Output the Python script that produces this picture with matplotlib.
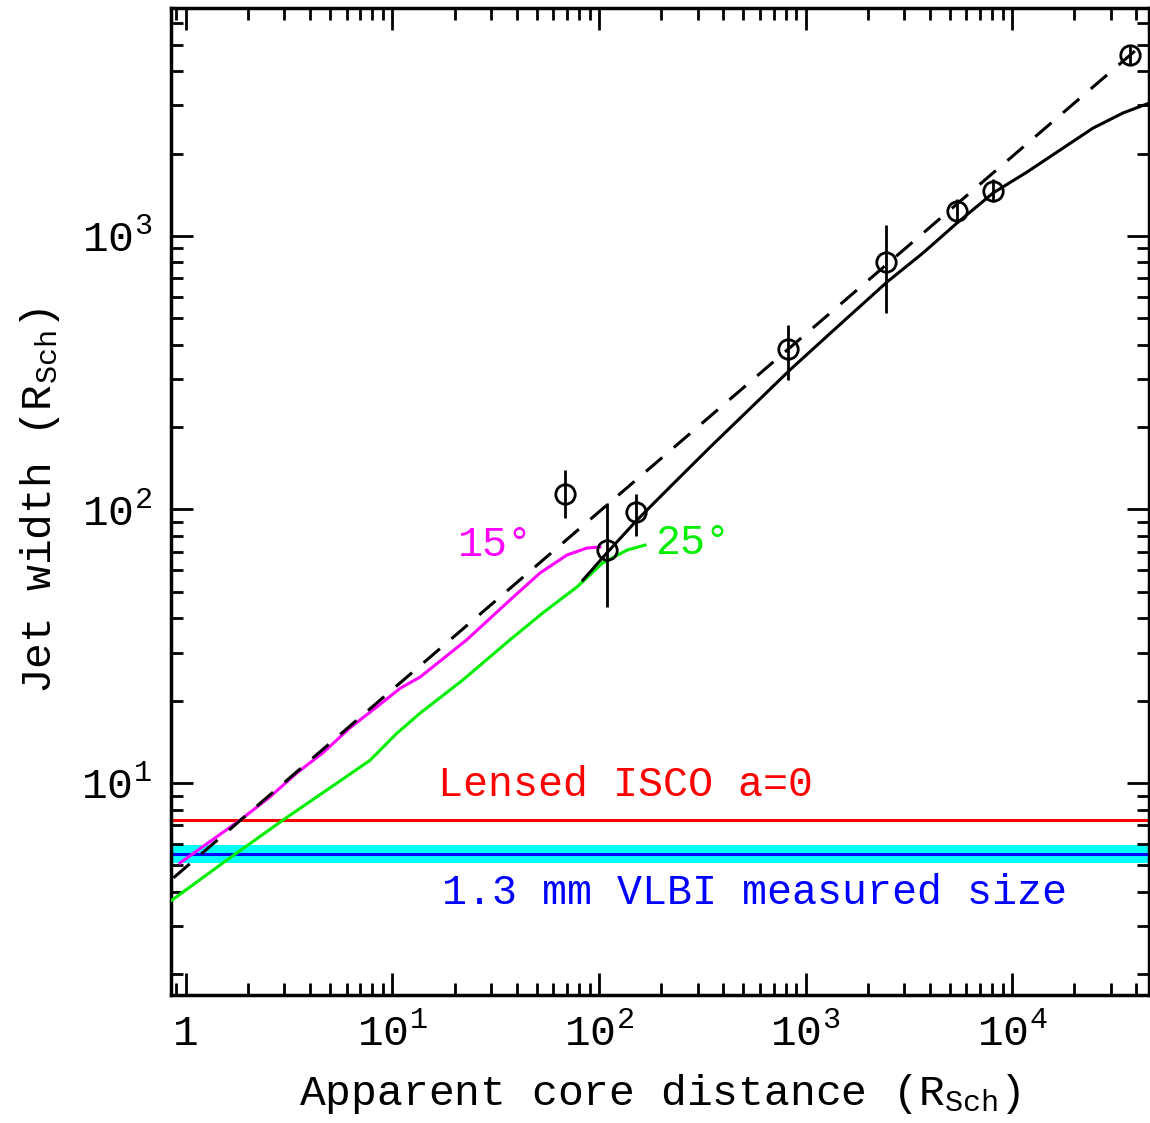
import numpy as np
import matplotlib
matplotlib.use("Agg")
import matplotlib.pyplot as plt
from matplotlib.ticker import LogLocator, NullFormatter

plt.rcParams['font.family'] = ['Liberation Mono', 'DejaVu Sans Mono']
plt.rcParams['mathtext.fontset'] = 'custom'
plt.rcParams['mathtext.rm'] = 'Liberation Mono'
plt.rcParams['mathtext.it'] = 'Liberation Mono'
plt.rcParams['mathtext.bf'] = 'Liberation Mono:bold'

# measured jet widths (circles with error bars)
obs_dist = [68.5, 109, 151, 823, 2455, 5420, 8090, 37250]
obs_width = [114, 71, 98, 386, 803, 1233, 1462, 4590]
obs_lo = [93, 44, 80, 297, 522, 1120, 1330, 4250]
obs_hi = [140, 106, 114, 473, 1097, 1365, 1610, 4960]

# power-law fit (dashed)
fit_dist = [0.87, 40000]
fit_width = [4.5, 4800]

# jet model (solid black)
model_dist = [83.6, 109, 153, 221, 345, 539, 841, 1406, 2482, 3707, 5417,
              8090, 11830, 17070, 24660, 34500, 46600]
model_width = [55.2, 69.3, 91.6, 121, 169, 234, 324, 461, 679, 867, 1116,
               1436, 1714, 2061, 2480, 2818, 3070]

# GRMHD profile, inclination 15 deg (magenta)
i15_dist = [0.935, 1.83, 2.55, 3.45, 4.61, 6.22, 8.41, 10.9, 13.6, 22.9, 37.1, 51.8, 70.0, 87.5, 101]
i15_width = [5.10, 7.32, 8.89, 10.9, 12.9, 15.9, 19.0, 22.2, 24.4, 33.4, 46.7, 58.6, 68.2, 72.3, 72.9]

# GRMHD profile, inclination 25 deg (green)
i25_dist = [0.855, 1.58, 2.95, 5.39, 7.78, 10.5, 13.6, 21.9, 37.1, 53.5, 78.2, 104, 137, 167]
i25_width = [3.73, 5.23, 7.32, 10.0, 12.1, 15.2, 18.0, 23.8, 33.4, 41.9, 52.1, 63.7, 71.1, 74.1]

isco_size = 7.33
vlbi_size = 5.5
vlbi_band = [5.08, 5.92]

fig = plt.figure(figsize=(11.5, 11.23), dpi=100)
ax = fig.add_axes([0.1491, 0.1140, 0.850, 0.8789])
ax.set_xscale('log')
ax.set_yscale('log')
ax.set_xlim(0.851, 46000)
ax.set_ylim(1.679, 6817)

ax.axhspan(vlbi_band[0], vlbi_band[1], color='#00ffff', lw=0, zorder=1)
ax.axhline(vlbi_size, color='#0000ff', lw=2.2, zorder=2)
ax.axhline(isco_size, color='#ff0000', lw=2.2, zorder=2)

ax.plot(i25_dist, i25_width, color='#00ee00', lw=2.2, zorder=3)
ax.plot(i15_dist, i15_width, color='#ff00ff', lw=2.2, zorder=3)
ax.plot(fit_dist, fit_width, color='black', lw=2.2, dashes=(7, 5), zorder=4)
ax.plot(model_dist, model_width, color='black', lw=2.2, zorder=4)

obs_w = np.array(obs_width)
yerr = [obs_w - np.array(obs_lo), np.array(obs_hi) - obs_w]
ax.errorbar(obs_dist, obs_width, yerr=yerr, fmt='o', ms=14, mfc='none',
            mec='black', mew=2, ecolor='black', elinewidth=2, capsize=0, zorder=5)

ax.text(134, 9.8, 'Lensed ISCO a=0', color='#ff0000', fontsize=30,
        ha='center', va='center')
ax.text(569, 3.96, '1.3 mm VLBI measured size', color='#0000ff', fontsize=30,
        ha='center', va='center')
ax.text(31.4, 74.1, '15°', color='#ff00ff', fontsize=30, ha='center', va='center')
ax.text(285, 75.3, '25°', color='#00ee00', fontsize=30, ha='center', va='center')

ax.set_xticks([1, 10, 100, 1000, 10000])
ax.set_xticklabels(['1', r'$\mathrm{10^{1}}$', r'$\mathrm{10^{2}}$',
                    r'$\mathrm{10^{3}}$', r'$\mathrm{10^{4}}$'])
ax.set_yticks([10, 100, 1000])
ax.set_yticklabels([r'$\mathrm{10^{1}}$', r'$\mathrm{10^{2}}$', r'$\mathrm{10^{3}}$'])
ax.xaxis.set_minor_locator(LogLocator(base=10, subs=np.arange(2, 10), numticks=20))
ax.yaxis.set_minor_locator(LogLocator(base=10, subs=np.arange(2, 10), numticks=20))
ax.xaxis.set_minor_formatter(NullFormatter())
ax.yaxis.set_minor_formatter(NullFormatter())

ax.tick_params(which='both', direction='in', top=True, right=True, width=2)
ax.tick_params(which='major', length=16, labelsize=31, pad=14)
ax.tick_params(which='minor', length=8.5)
for sp in ax.spines.values():
    sp.set_linewidth(2.5)

ax.set_xlabel(r'Apparent core distance (R$_{\mathrm{Sch}}$)', fontsize=31, labelpad=12)
ax.set_ylabel(r'Jet width (R$_{\mathrm{Sch}}$)', fontsize=31, labelpad=14)

fig.savefig('out.png', dpi=100)
